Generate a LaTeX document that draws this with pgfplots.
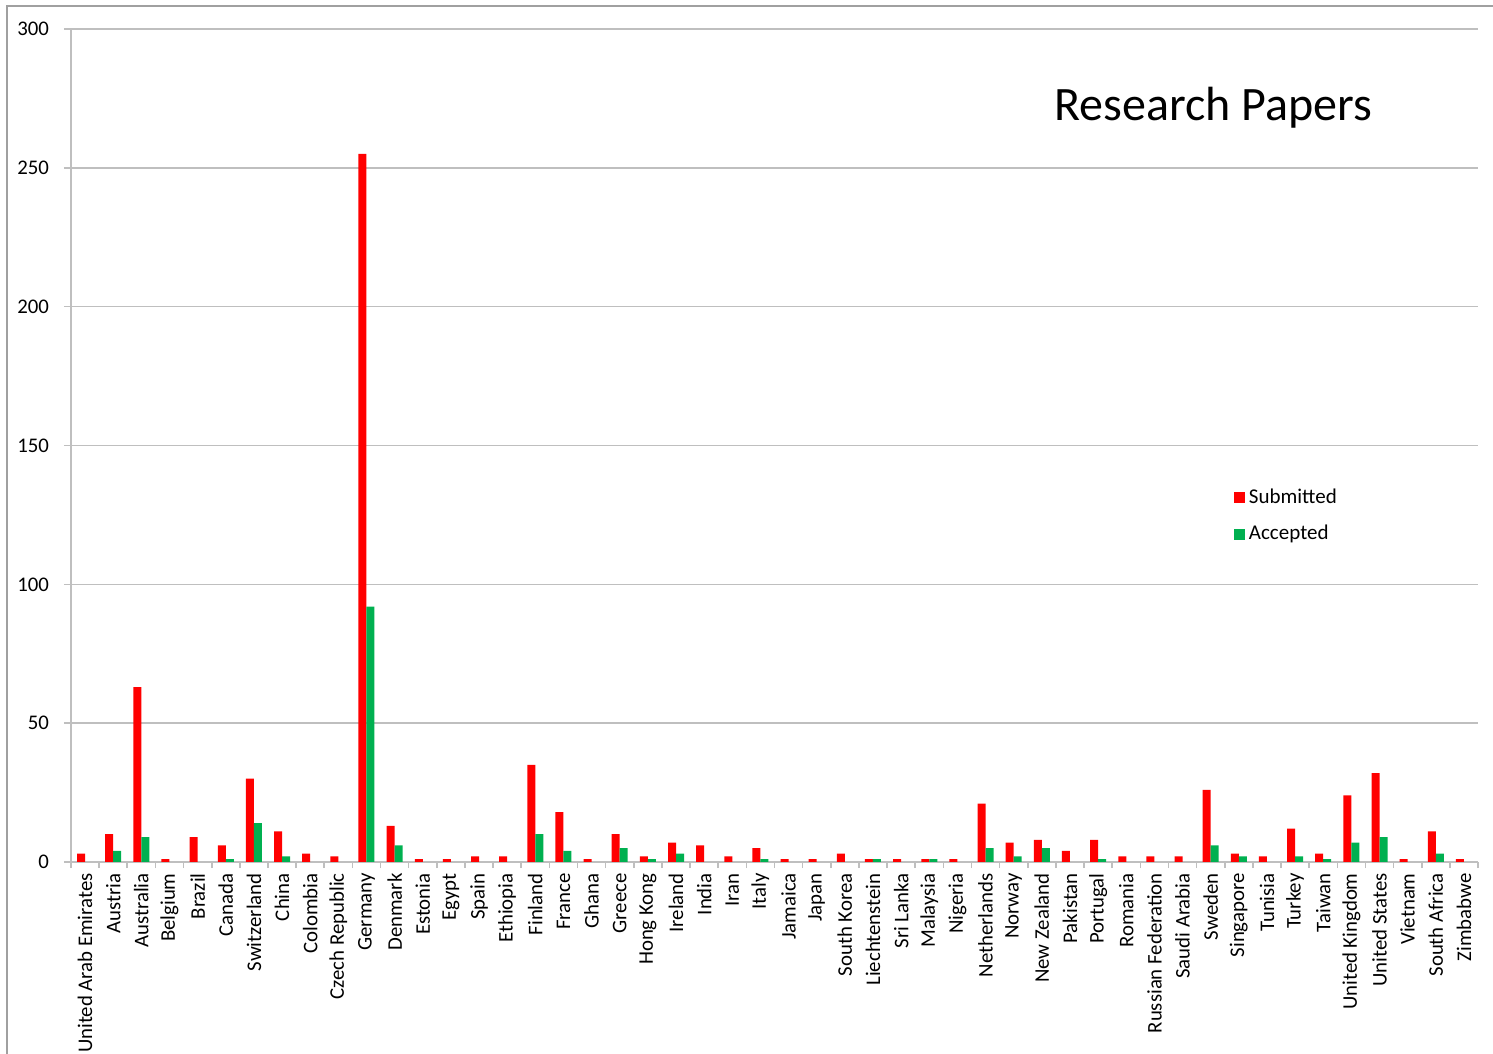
\documentclass[border=0pt]{standalone}
\usepackage{pgfplots}
\pgfplotsset{compat=1.18}
\usepackage{pgfplotstable}
\usepackage{fontspec}
\setmainfont{Carlito}
\definecolor{subred}{HTML}{FF0000}
\definecolor{accgreen}{HTML}{00B050}
\definecolor{gridgray}{HTML}{BFBFBF}
\definecolor{framegray}{HTML}{A0A0A0}

% idx = position of the country on the x axis
\pgfplotstableread{
idx sub acc
0 3 0
1 10 4
2 63 9
3 1 0
4 9 0
5 6 1
6 30 14
7 11 2
8 3 0
9 2 0
10 255 92
11 13 6
12 1 0
13 1 0
14 2 0
15 2 0
16 35 10
17 18 4
18 1 0
19 10 5
20 2 1
21 7 3
22 6 0
23 2 0
24 5 1
25 1 0
26 1 0
27 3 0
28 1 1
29 1 0
30 1 1
31 1 0
32 21 5
33 7 2
34 8 5
35 4 0
36 8 1
37 2 0
38 2 0
39 2 0
40 26 6
41 3 2
42 2 0
43 12 2
44 3 1
45 24 7
46 32 9
47 1 0
48 11 3
49 1 0
}\papers

\begin{document}
\begin{tikzpicture}
\useasboundingbox (0,0) rectangle (746.5bp,527bp);
\draw[framegray, line width=0.8bp] (3.5bp,-5bp) -- (3.5bp,524bp) -- (760bp,524bp);
\begin{axis}[
  at={(35.5bp,96bp)}, anchor=south west,
  width=703.5bp, height=416.5bp, scale only axis,
  ybar=0pt, bar width=4bp,
  xmin=-0.5, xmax=49.5, ymin=0, ymax=300,
  enlarge x limits=false,
  axis x line*=bottom, axis y line*=left,
  axis line style={gridgray, line width=0.8bp},
  tick align=outside,
  tick style={gridgray, line width=0.8bp},
  major tick length=3.5bp, minor tick length=3bp,
  ytick={0,50,...,300},
  ymajorgrids, grid style={gridgray, line width=0.8bp},
  xtick={0,...,49},
  major x tick style={draw=none},
  minor xtick={-0.5,0.5,...,49.5},
  xticklabels={United Arab Emirates,Austria,Australia,Belgium,Brazil,Canada,Switzerland,China,Colombia,Czech Republic,Germany,Denmark,Estonia,Egypt,Spain,Ethiopia,Finland,France,Ghana,Greece,Hong Kong,Ireland,India,Iran,Italy,Jamaica,Japan,South Korea,Liechtenstein,Sri Lanka,Malaysia,Nigeria,Netherlands,Norway,New Zealand,Pakistan,Portugal,Romania,Russian Federation,Saudi Arabia,Sweden,Singapore,Tunisia,Turkey,Taiwan,United Kingdom,United States,Vietnam,South Africa,Zimbabwe},
  x tick label style={rotate=90, anchor=east, font=\fontsize{10.4bp}{12bp}\selectfont, inner sep=2bp},
  y tick label style={font=\fontsize{10.4bp}{12bp}\selectfont, xshift=-4bp},
  /pgf/number format/assume math mode=true,
  legend style={at={(0.822,0.458)}, anchor=north west, draw=none, fill=none,
    font=\fontsize{10.5bp}{12bp}\selectfont, row sep=5.5bp},
  legend cell align=left,
]
\addplot[fill=subred, draw=none,
  legend image code/.code={\fill[subred] (0bp,-2.75bp) rectangle (5.5bp,2.75bp);}]
  table[x=idx, y=sub] {\papers};
\addplot[fill=accgreen, draw=none,
  legend image code/.code={\fill[accgreen] (0bp,-2.75bp) rectangle (5.5bp,2.75bp);}]
  table[x=idx, y=acc] {\papers};
\legend{Submitted, Accepted}
\node[font=\fontsize{24bp}{28bp}\selectfont] at (rel axis cs:0.812,0.906) {Research Papers};
\end{axis}
\end{tikzpicture}
\end{document}
